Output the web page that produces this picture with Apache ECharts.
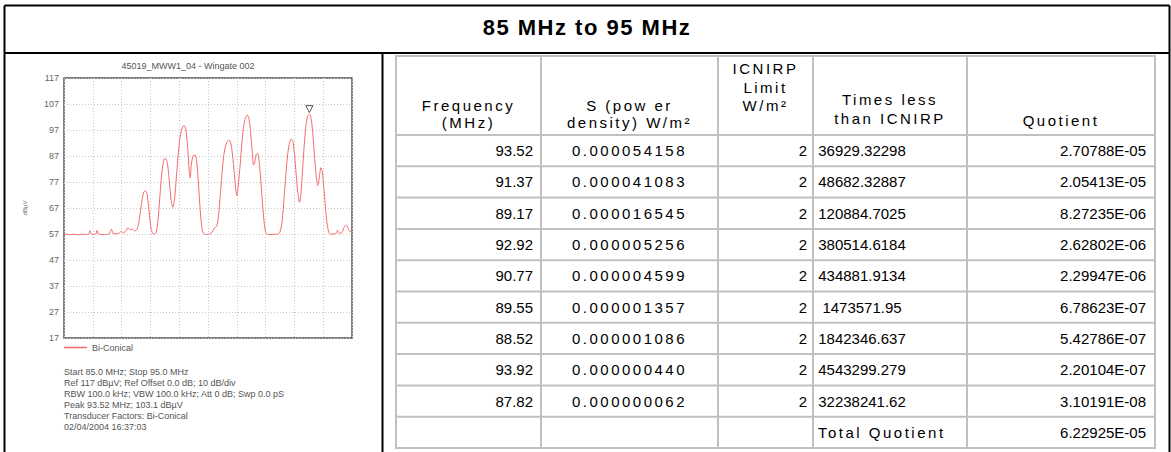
<!DOCTYPE html>
<html>
<head>
<meta charset="utf-8">
<title>85 MHz to 95 MHz</title>
<script src="https://cdn.jsdelivr.net/npm/echarts@6/dist/echarts.min.js"></script>
<style>
  html, body { margin: 0; padding: 0; background: #fff; }
  #main { width: 1171px; height: 452px; }
</style>
</head>
<body>
<div id="main"></div>
<script>
// spectrum trace, MHz / dBµV
const traceFreq = [
  85.00, 85.10, 85.20, 85.30, 85.40, 85.50, 85.60, 85.70, 85.85, 85.90,
  85.95, 86.10, 86.15, 86.20, 86.40, 86.55, 86.65, 86.72, 86.90, 86.98,
  87.05, 87.15, 87.22, 87.30, 87.38, 87.45, 87.52, 87.58, 87.64, 87.70,
  87.76, 87.82, 87.88, 87.93, 87.98, 88.03, 88.08, 88.14, 88.20, 88.26,
  88.32, 88.38, 88.44, 88.50, 88.55, 88.60, 88.66, 88.72, 88.78, 88.84,
  88.90, 88.96, 89.02, 89.08, 89.14, 89.19, 89.24, 89.30, 89.35, 89.38,
  89.42, 89.48, 89.55, 89.60, 89.65, 89.70, 89.75, 89.80, 89.86, 89.95,
  90.05, 90.15, 90.22, 90.30, 90.36, 90.42, 90.48, 90.54, 90.60, 90.66,
  90.72, 90.77, 90.83, 90.90, 90.96, 91.00, 91.05, 91.12, 91.18, 91.24,
  91.30, 91.36, 91.42, 91.48, 91.54, 91.58, 91.62, 91.67, 91.72, 91.76,
  91.82, 91.88, 91.94, 91.99, 92.04, 92.15, 92.30, 92.45, 92.52, 92.58,
  92.64, 92.70, 92.76, 92.82, 92.88, 92.94, 93.00, 93.06, 93.12, 93.18,
  93.22, 93.28, 93.34, 93.40, 93.46, 93.52, 93.58, 93.64, 93.70, 93.76,
  93.81, 93.86, 93.92, 93.97, 94.02, 94.08, 94.14, 94.20, 94.26, 94.35,
  94.45, 94.50, 94.55, 94.65, 94.72, 94.78, 94.84, 94.90, 95.00
];
const traceLevel = [
  56.8, 56.9, 56.7, 56.9, 56.8, 56.7, 56.9, 56.8, 56.9, 58.3,
  56.9, 57.0, 58.4, 57.0, 56.8, 56.9, 58.8, 57.1, 57.2, 58.0,
  57.4, 58.2, 59.4, 58.6, 58.9, 58.2, 58.6, 60.5, 64.5, 69.5,
  72.8, 73.7, 72.5, 68.5, 63.0, 58.8, 57.2, 56.9, 57.6, 62.0,
  70.0, 78.5, 84.0, 86.1, 85.8, 83.5, 77.0, 70.0, 67.3, 70.5,
  78.5, 87.0, 93.5, 97.0, 98.5, 98.6, 96.5, 89.5, 81.0, 78.5,
  83.5, 87.0, 87.3, 85.5, 79.5, 71.0, 63.5, 58.5, 57.1, 56.8,
  57.0, 57.8, 59.2, 60.0, 63.5, 71.0, 79.5, 86.5, 90.5, 92.3,
  93.0, 92.8, 89.5, 82.0, 74.5, 71.7, 75.5, 84.0, 92.5, 98.5,
  101.8, 102.8, 101.5, 96.0, 88.0, 83.5, 84.5, 87.5, 88.0, 86.5,
  79.5, 70.5, 62.5, 58.2, 57.0, 56.8, 56.9, 57.0, 58.5, 62.5,
  70.5, 79.5, 87.0, 91.5, 93.5, 93.0, 88.0, 80.0, 73.0, 69.2,
  71.5, 81.0, 91.0, 98.5, 102.5, 103.1, 101.5, 95.5, 86.5, 79.0,
  75.6, 78.5, 82.5, 81.0, 75.0, 67.0, 60.5, 57.5, 56.9, 57.0,
  57.2, 58.5, 57.3, 57.5, 59.5, 60.3, 60.0, 58.3, 57.6
];
const peakFreq = 93.52;
const peakLevel = 103.1;

// axis range (ref 117 dBµV, 10 dB/div)
const freqMin = 85, freqMax = 95, freqStep = 1;
const levelMin = 17, levelMax = 117, levelStep = 10;

const mainTitle = '85 MHz to 95 MHz';
const plotTitle = '45019_MWW1_04 - Wingate 002';
const seriesName = 'Bi-Conical';
const infoLines = [
  'Start 85.0 MHz; Stop 95.0 MHz',
  'Ref 117 dBµV; Ref Offset 0.0 dB; 10 dB/div',
  'RBW 100.0 kHz; VBW 100.0 kHz; Att 0 dB; Swp 0.0 pS',
  'Peak 93.52 MHz; 103.1 dBµV',
  'Transducer Factors: Bi-Conical',
  '02/04/2004 16:37:03'
];

// table
const headers = [
  ['Frequency', '(MHz)'],
  ['S (pow er', 'density) W/m²'],
  ['ICNIRP', 'Limit', 'W/m²'],
  ['Times less', 'than ICNIRP'],
  ['Quotient']
];
const tableFreq = ['93.52', '91.37', '89.17', '92.92', '90.77', '89.55', '88.52', '93.92', '87.82'];
const tablePower = ['0.000054158', '0.000041083', '0.000016545', '0.000005256', '0.000004599',
  '0.000001357', '0.000001086', '0.000000440', '0.000000062'];
const tableLimit = ['2', '2', '2', '2', '2', '2', '2', '2', '2'];
const tableTimes = ['36929.32298', '48682.32887', '120884.7025', '380514.6184', '434881.9134',
  '1473571.95', '1842346.637', '4543299.279', '32238241.62'];
const tableQuotient = ['2.70788E-05', '2.05413E-05', '8.27235E-06', '2.62802E-06', '2.29947E-06',
  '6.78623E-07', '5.42786E-07', '2.20104E-07', '3.10191E-08'];
const totalLabel = 'Total Quotient';
const totalQuotient = '6.22925E-05';

const FONT = '"Liberation Sans", Arial, sans-serif';
const TRACE = '#f26b6b';
const colX = [396, 541, 718, 813, 967, 1155];
const tableTop = 56, headBottom = 135, tableBottom = 448;
const rowH = (tableBottom - headBottom) / (tableFreq.length + 1);
const headLineY = [[105, 122], [105, 122], [68, 87, 105], [99, 118], [120]];

const els = [];
function line(x1, y1, x2, y2, color, w) {
  els.push({ type: 'line', silent: true, shape: { x1, y1, x2, y2 }, style: { stroke: color, lineWidth: w } });
}
function text(x, y, str, opt) {
  els.push({
    type: 'text', silent: true, x, y,
    style: Object.assign({
      text: str, fill: '#000', fontSize: 15, fontFamily: FONT,
      align: 'left', verticalAlign: 'middle'
    }, opt || {})
  });
}

// outer frame (black)
line(4.5, 5.5, 1169.5, 5.5, '#000', 2);
line(4.5, 5.5, 4.5, 452, '#000', 2);
line(1169.5, 5.5, 1169.5, 452, '#000', 2);
line(4.5, 53, 1169.5, 53, '#000', 2);
line(382.5, 53, 382.5, 452, '#000', 2);
text(587, 27, mainTitle, { fontSize: 22, fontWeight: 'bold', align: 'center' });

// table grid (grey)
const GRID = '#c0c0c0';
colX.forEach(x => line(x, tableTop, x, tableBottom, GRID, 2));
line(colX[0] - 1, tableTop, colX[5] + 1, tableTop, GRID, 2);
line(colX[0] - 1, headBottom, colX[5] + 1, headBottom, GRID, 2);
for (let i = 1; i <= tableFreq.length + 1; i++) {
  const y = headBottom + rowH * i;
  line(colX[0] - 1, y, colX[5] + 1, y, GRID, 2);
}

headers.forEach((lines, c) => {
  const cx = (colX[c] + colX[c + 1]) / 2;
  lines.forEach((s, k) => text(cx, headLineY[c][k], s, { align: 'center' }));
});

tableFreq.forEach((f, i) => {
  const y = headBottom + rowH * (i + 0.5);
  text(colX[1] - 8, y, f, { align: 'right' });
  text((colX[1] + colX[2]) / 2, y, tablePower[i], { align: 'center' });
  text(colX[3] - 6, y, tableLimit[i], { align: 'right' });
  text(862, y, tableTimes[i], { align: 'center' });
  text(colX[5] - 9, y, tableQuotient[i], { align: 'right' });
});
const totalY = headBottom + rowH * (tableFreq.length + 0.5);
text(colX[3] + 5, totalY, totalLabel);
text(colX[5] - 9, totalY, totalQuotient, { align: 'right' });

// analyser plot texts
text(188, 66, plotTitle, { fontSize: 9, fill: '#555', align: 'center' });
infoLines.forEach((s, i) => text(64, 372 + i * 11, s, { fontSize: 9, fill: '#555' }));

const chart = echarts.init(document.getElementById('main'), null, { renderer: 'svg' });
chart.setOption({
  animation: false,
  textStyle: { fontFamily: FONT },
  grid: {
    left: 64, top: 78, width: 288, height: 260,
    show: true, borderColor: '#555', borderWidth: 1.5
  },
  legend: {
    data: [{ name: seriesName, itemStyle: { color: TRACE } }],
    left: 64, top: 343, icon: 'rect',
    itemWidth: 23, itemHeight: 1.5, itemGap: 5, padding: 0,
    textStyle: { fontSize: 9, color: '#555' }
  },
  xAxis: {
    type: 'value', min: freqMin, max: freqMax, interval: freqStep,
    axisLine: { show: false }, axisTick: { show: false }, axisLabel: { show: false },
    splitLine: { show: true, lineStyle: { color: '#c8c8c8', type: [1, 2], width: 1 } }
  },
  yAxis: {
    type: 'value', min: levelMin, max: levelMax, interval: levelStep,
    name: 'dBµV', nameLocation: 'middle', nameGap: 36,
    nameTextStyle: { fontSize: 6, color: '#666' },
    axisLine: { show: false }, axisTick: { show: false },
    axisLabel: { fontSize: 9, color: '#666', margin: 5 },
    splitLine: { show: true, lineStyle: { color: '#c8c8c8', type: [1, 2], width: 1 } }
  },
  series: [{
    name: seriesName,
    type: 'line',
    data: traceFreq.map((f, i) => [f, traceLevel[i]]),
    showSymbol: false,
    smooth: 0.25,
    color: TRACE,
    lineStyle: { width: 1, color: TRACE },
    markPoint: {
      symbol: 'triangle', symbolRotate: 180, symbolSize: 7, symbolOffset: [0, -5],
      itemStyle: { color: '#fff', borderColor: '#555', borderWidth: 1 },
      label: { show: false },
      data: [{ coord: [peakFreq, peakLevel] }]
    }
  }],
  graphic: { elements: els }
});

// the source sheet renders its text cells with wide glyph spacing
const spaced = new Set([mainTitle, totalLabel].concat(tablePower, ...headers));
function spaceOut() {
  document.querySelectorAll('#main text').forEach(t => {
    if (spaced.has(t.textContent)) t.setAttribute('letter-spacing', t.textContent === mainTitle ? '1.5' : '2.5');
  });
}
spaceOut();
chart.on('finished', spaceOut);
window.addEventListener('resize', chart.resize);
</script>
</body>
</html>
